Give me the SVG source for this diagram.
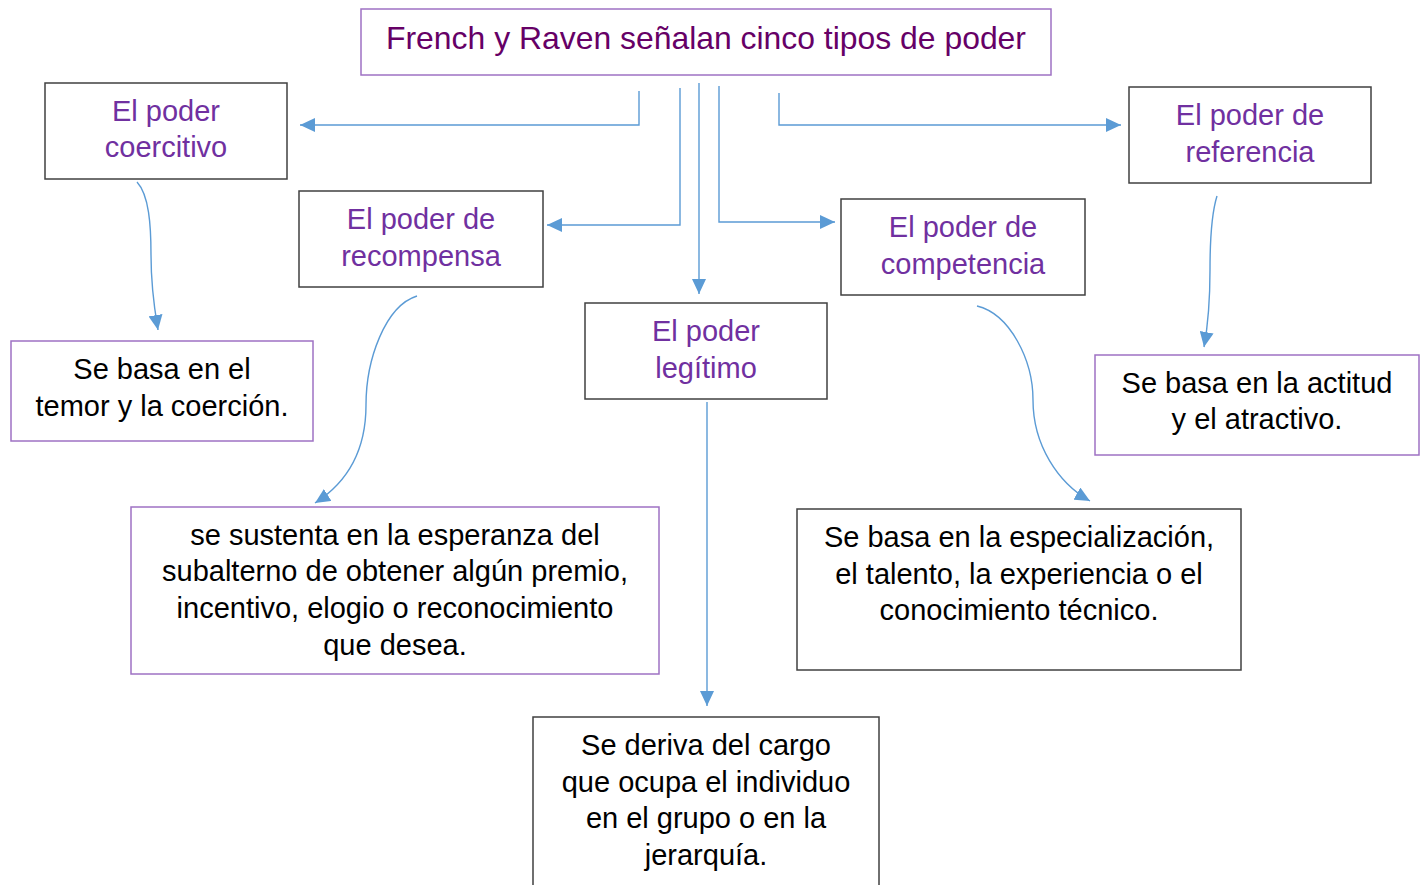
<svg xmlns="http://www.w3.org/2000/svg" width="1425" height="885" viewBox="0 0 1425 885">
<defs>
<marker id="ah" markerUnits="userSpaceOnUse" markerWidth="15" markerHeight="14" refX="15" refY="7" orient="auto" viewBox="0 0 15 14">
<path d="M0,0 L15,7 L0,14 z" fill="#5b9bd5"/>
</marker>
<style>
text{font-family:"Liberation Sans",Arial,sans-serif;text-anchor:middle}
.t{font-size:31.9px;fill:#660066}
.c{font-size:29px;fill:#7030a0}
.d{font-size:29px;fill:#000}
.bp{fill:#fff;stroke:#9e72c3;stroke-width:1.5}
.bd{fill:#fff;stroke:#404040;stroke-width:1.5}
.ln{fill:none;stroke:#5b9bd5;stroke-width:1.4;marker-end:url(#ah)}
</style>
</defs>
<rect width="1425" height="885" fill="#fff"/>
<g id="connectors">
<path class="ln" d="M639,91 V125 H300"/>
<path class="ln" d="M680,88 V225 H547"/>
<path class="ln" d="M699,83 V294"/>
<path class="ln" d="M719,86 V222 H835"/>
<path class="ln" d="M779,93 V125 H1121"/>
<path class="ln" d="M137,182 C149,195 151,225 151,255 C151,290 155,312 158,330"/>
<path class="ln" d="M417,296 C385,306 366,360 366,405 C366,450 348,482 315,503"/>
<path class="ln" d="M977,306 C1010,314 1033,360 1033,400 C1033,445 1058,483 1090,501"/>
<path class="ln" d="M1217,196 C1212,212 1210,240 1210,270 C1210,300 1208,325 1204,347"/>
<path class="ln" d="M707,402 V706"/>
</g>
<g id="title"><rect class="bp" x="361" y="9" width="690" height="66"/><text class="t" x="706" y="49">French y Raven señalan cinco tipos de poder</text></g>
<g id="coercitivo"><rect class="bd" x="45" y="83" width="242" height="96"/><text class="c" x="166" y="121">El poder</text><text class="c" x="166" y="157">coercitivo</text></g>
<g id="recompensa"><rect class="bd" x="299" y="191" width="244" height="96"/><text class="c" x="421" y="229">El poder de</text><text class="c" x="421" y="266">recompensa</text></g>
<g id="legitimo"><rect class="bd" x="585" y="303" width="242" height="96"/><text class="c" x="706" y="341">El poder</text><text class="c" x="706" y="378">legítimo</text></g>
<g id="competencia"><rect class="bd" x="841" y="199" width="244" height="96"/><text class="c" x="963" y="237">El poder de</text><text class="c" x="963" y="274">competencia</text></g>
<g id="referencia"><rect class="bd" x="1129" y="87" width="242" height="96"/><text class="c" x="1250" y="125">El poder de</text><text class="c" x="1250" y="162">referencia</text></g>
<g id="desc-coercitivo"><rect class="bp" x="11" y="341" width="302" height="100"/><text class="d" x="162" y="379">Se basa en el</text><text class="d" x="162" y="416">temor y la coerción.</text></g>
<g id="desc-referencia"><rect class="bp" x="1095" y="355" width="324" height="100"/><text class="d" x="1257" y="393">Se basa en la actitud</text><text class="d" x="1257" y="429">y el atractivo.</text></g>
<g id="desc-recompensa"><rect class="bp" x="131" y="507" width="528" height="167"/><text class="d" x="395" y="545">se sustenta en la esperanza del</text><text class="d" x="395" y="581">subalterno de obtener algún premio,</text><text class="d" x="395" y="618">incentivo, elogio o reconocimiento</text><text class="d" x="395" y="655">que desea.</text></g>
<g id="desc-competencia"><rect class="bd" x="797" y="509" width="444" height="161"/><text class="d" x="1019" y="547">Se basa en la especialización,</text><text class="d" x="1019" y="584">el talento, la experiencia o el</text><text class="d" x="1019" y="620">conocimiento técnico.</text></g>
<g id="desc-legitimo"><rect class="bd" x="533" y="717" width="346" height="180"/><text class="d" x="706" y="755">Se deriva del cargo</text><text class="d" x="706" y="792">que ocupa el individuo</text><text class="d" x="706" y="828">en el grupo o en la</text><text class="d" x="706" y="865">jerarquía.</text></g>
</svg>
